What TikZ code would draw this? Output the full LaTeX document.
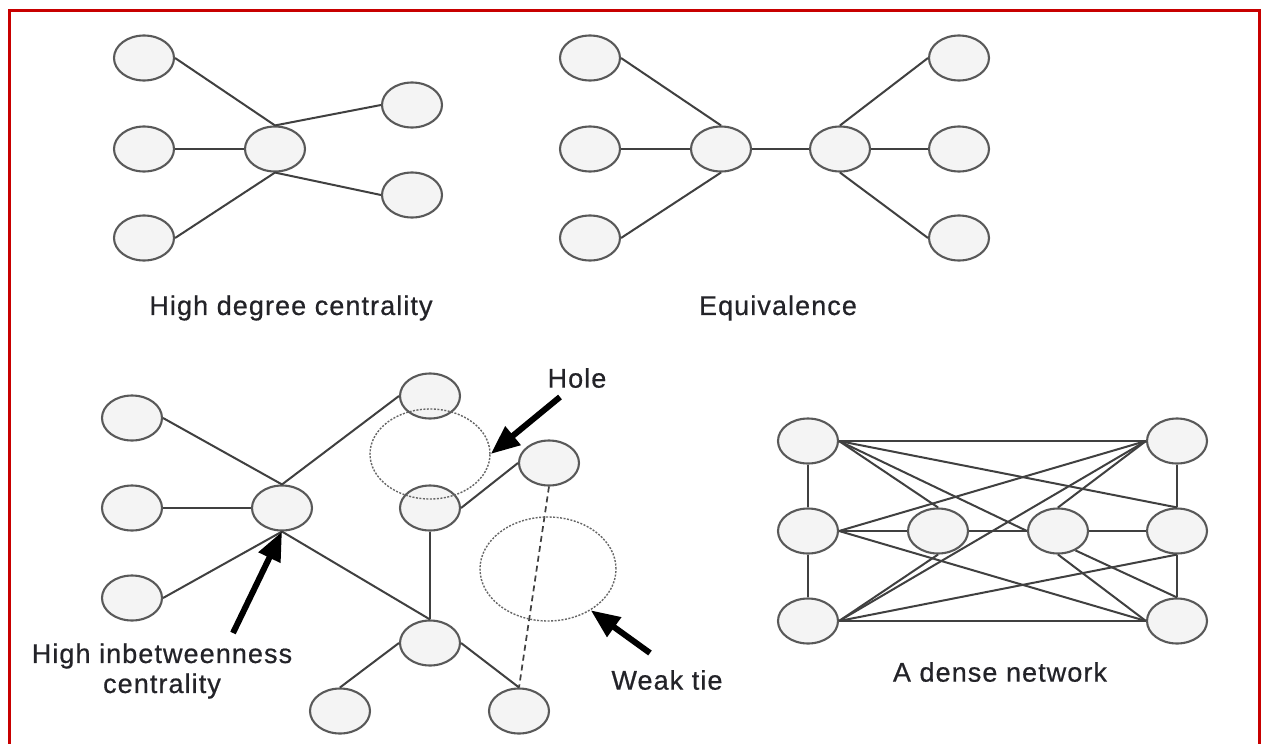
\documentclass[tikz,border=0pt]{standalone}
\usepackage{fontspec}
\setmainfont{Liberation Sans}[LetterSpace=4,FakeBold=0.6]
\usetikzlibrary{shapes.geometric,arrows.meta}
\definecolor{framered}{RGB}{200,0,0}
\definecolor{vfill}{RGB}{244,244,244}
\definecolor{ink}{RGB}{35,35,40}

\begin{document}
\begin{tikzpicture}[x=1pt,y=-1pt,
  vertex/.style={ellipse, draw=black!65, line width=2.1pt, fill=vfill,
    minimum width=60pt, minimum height=45pt, inner sep=0pt},
  tie/.style={draw=black!75, line width=2pt},
  weaktie/.style={draw=black!75, line width=1.7pt, dash pattern=on 6pt off 4pt},
  halo/.style={ellipse, draw=black!60, line width=1.4pt,
    dash pattern=on 2pt off 1.5pt, inner sep=0pt},
  pointer/.style={draw=black, line width=6pt, -{Triangle[length=29pt,width=23pt]}},
  caption/.style={font=\fontsize{27}{30}\selectfont, text=ink, align=center}]

\useasboundingbox (0,0) rectangle (1262,744);
\clip (0,0) rectangle (1262,744);
\fill[white] (0,0) rectangle (1262,744);

% frame
\draw[framered, line width=3pt] (9.5,10.5) rectangle (1259.5,770);

% ---------- high degree centrality ----------
\node[vertex] (d1) at (144,58) {};
\node[vertex] (d2) at (144,149) {};
\node[vertex] (d3) at (144,238) {};
\node[vertex] (dc) at (275,149) {};
\node[vertex] (d4) at (412,105) {};
\node[vertex] (d5) at (412,195) {};
\draw[tie] (d1.east) -- (dc.north);
\draw[tie] (d2.east) -- (dc.west);
\draw[tie] (d3.east) -- (dc.south);
\draw[tie] (dc.north) -- (d4.west);
\draw[tie] (dc.south) -- (d5.west);
\node[caption] (capdeg) at (291,308) {High degree centrality};

% ---------- equivalence ----------
\node[vertex] (e1) at (590,58) {};
\node[vertex] (e2) at (590,149) {};
\node[vertex] (e3) at (590,238) {};
\node[vertex] (ea) at (721,149) {};
\node[vertex] (eb) at (840,149) {};
\node[vertex] (e4) at (959,58) {};
\node[vertex] (e5) at (959,149) {};
\node[vertex] (e6) at (959,238) {};
\draw[tie] (e1.east) -- (ea.north);
\draw[tie] (e2.east) -- (ea.west);
\draw[tie] (e3.east) -- (ea.south);
\draw[tie] (ea.east) -- (eb.west);
\draw[tie] (eb.north) -- (e4.west);
\draw[tie] (eb.east) -- (e5.west);
\draw[tie] (eb.south) -- (e6.west);
\node[caption] (capeq) at (778,308) {Equivalence};

% ---------- betweenness, hole and weak tie ----------
\node[vertex] (b1) at (132,418) {};
\node[vertex] (b2) at (132,508) {};
\node[vertex] (b3) at (132,598) {};
\node[vertex] (bc) at (282,508) {};
\node[vertex] (bt) at (430,396) {};
\node[vertex] (bh) at (430,508) {};
\node[vertex] (br) at (549,463) {};
\node[vertex] (bl) at (430,643) {};
\node[vertex] (bb1) at (340,711) {};
\node[vertex] (bb2) at (519,711) {};
\draw[tie] (b1.east) -- (bc.north);
\draw[tie] (b2.east) -- (bc.west);
\draw[tie] (b3.east) -- (bc.south);
\draw[tie] (bc.north) -- (bt.west);
\draw[tie] (bc.south) -- (bl.north);
\draw[tie] (bh.south) -- (bl.north);
\draw[tie] (bh.east) -- (br.west);
\draw[tie] (bl.west) -- (bb1.north);
\draw[tie] (bl.east) -- (bb2.north);
\draw[weaktie] (br.south) -- (bb2.north);

\node[halo, minimum width=120pt, minimum height=90pt] (hole) at (430,454) {};
\node[halo, minimum width=136pt, minimum height=104pt] (weak) at (548,569) {};

\coordinate (pbtw) at (233,633);
\coordinate (phole) at (560,397);
\coordinate (pweak) at (650,653);
\draw[pointer] (pbtw) -- (bc.south);
\draw[pointer] (phole) -- (hole.east);
\draw[pointer] (pweak) -- (weak.-44);

\node[caption] (capbtw) at (162,671) {High inbetweenness\\centrality};
\node[caption] (caphole) at (577,378) {Hole};
\node[caption] (capweak) at (667,680) {Weak tie};

% ---------- dense network ----------
\node[vertex] (l1) at (808,441) {};
\node[vertex] (l2) at (808,531) {};
\node[vertex] (l3) at (808,621) {};
\node[vertex] (m1) at (938,531) {};
\node[vertex] (m2) at (1058,531) {};
\node[vertex] (r1) at (1177,441) {};
\node[vertex] (r2) at (1177,531) {};
\node[vertex] (r3) at (1177,621) {};
\draw[tie] (l1.south) -- (l2.north);
\draw[tie] (l2.south) -- (l3.north);
\draw[tie] (r1.south) -- (r2.north);
\draw[tie] (r2.south) -- (r3.north);
\draw[tie] (l1.east) -- (r1.west);
\draw[tie] (l3.east) -- (r3.west);
\draw[tie] (l2.east) -- (m1.west);
\draw[tie] (m1.east) -- (m2.west);
\draw[tie] (m2.east) -- (r2.west);
\draw[tie] (l1.east) -- (r2.north);
\draw[tie] (l1.east) -- (m2.west);
\draw[tie] (l1.east) -- (m1.north);
\draw[tie] (l2.east) -- (r1.west);
\draw[tie] (l2.east) -- (r3.west);
\draw[tie] (l3.east) -- (r2.south);
\draw[tie] (l3.east) -- (m1.south);
\draw[tie] (l3.east) -- (r1.west);
\draw[tie] (m2.north) -- (r1.west);
\draw[tie] (m2.south) -- (r3.west);
\draw[tie] (m2.-48) -- (r3.north);
\node[caption] (capdense) at (1000,672) {A dense network};

\end{tikzpicture}
\end{document}
